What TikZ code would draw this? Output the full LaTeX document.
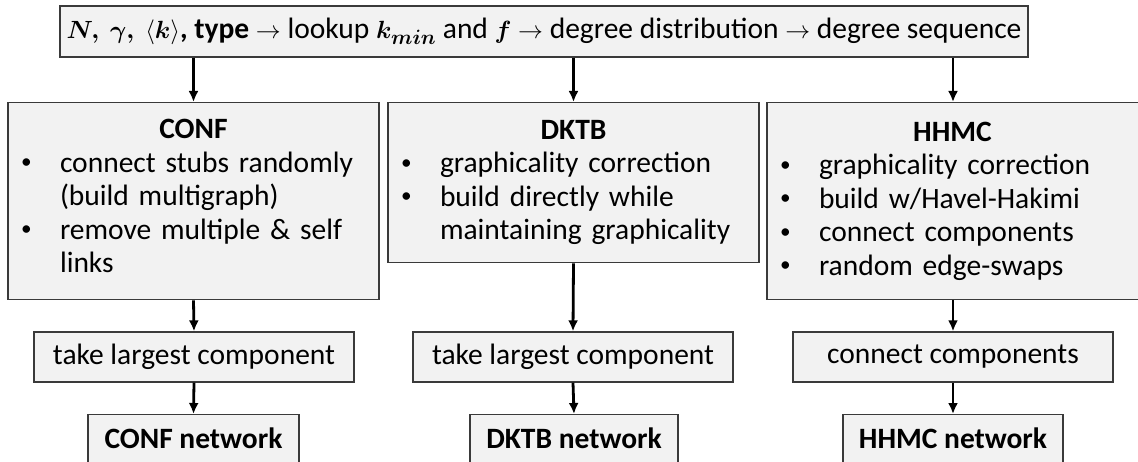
\documentclass[tikz,border=0pt]{standalone}
\usepackage{bm}
\usepackage{fontspec}
\setmainfont{Carlito}
\usetikzlibrary{arrows.meta}

\definecolor{boxfill}{HTML}{F2F2F2}
\definecolor{boxline}{HTML}{3A3A3A}

\newcommand{\itembul}{\makebox[35pt][l]{\hspace*{-4pt}\raisebox{0.12em}{\scalebox{0.72}{\textbullet}}}}
\newcommand{\itemcont}{\hspace*{35pt}}
\newcommand{\coltitle}[1]{\makebox[337pt]{\textbf{#1}}}

\tikzset{
  box/.style={draw=boxline, line width=1.3pt, fill=boxfill, inner sep=0pt,
    font=\fontsize{29.5pt}{33.5pt}\selectfont},
  colbox/.style={box, anchor=north, text width=337pt, inner xsep=17pt,
    inner ysep=4pt, align=left},
  stepbox/.style={box, minimum width=320pt, minimum height=50pt},
  netbox/.style={box, anchor=north, text height=29pt, text depth=20pt,
    inner ysep=5pt},
  arr/.style={line width=2.8pt, -{Latex[length=11pt,width=10pt]}}
}

\begin{document}
\begin{tikzpicture}[x=1pt,y=1pt]
\useasboundingbox (0, 0) rectangle (1138, 461);

\node (top) at (544, 429.5) [box, minimum width=968pt, minimum height=51pt]
  {$\bm{N,\ \gamma,}\ \langle\bm{k}\rangle$\textbf{, type} $\rightarrow$ lookup $\bm{k_{min}}$ and $\bm{f}$ $\rightarrow$ degree distribution $\rightarrow$ degree sequence};

\node (conf) at (193.5, 359) [colbox, minimum height=197pt]
  {\coltitle{CONF}\\
   \itembul connect stubs randomly\\
   \itemcont (build multigraph)\\
   \itembul remove multiple \& self\\
   \itemcont links\strut};
\node (dktb) at (573.5, 359) [colbox, minimum height=160pt]
  {\coltitle{DKTB}\\
   \itembul graphicality correction\\
   \itembul build directly while\\
   \itemcont maintaining graphicality};
\node (hhmc) at (953, 359) [colbox, minimum height=197pt, text width=338pt]
  {\coltitle{HHMC}\\
   \itembul graphicality correction\\
   \itembul build w/Havel-Hakimi\\
   \itembul connect components\\
   \itembul random edge-swaps};

\node (conflc) at (194, 104) [stepbox] {take largest component};
\node (dktblc) at (573, 104) [stepbox] {take largest component};
\node (hhmccc) at (953, 104) [stepbox] {connect components};

\node (confnet) at (193.5, 47) [netbox, minimum width=211pt] {\textbf{CONF network}};
\node (dktbnet) at (574, 47) [netbox, minimum width=208pt] {\textbf{DKTB network}};
\node (hhmcnet) at (953, 47) [netbox, minimum width=220pt] {\textbf{HHMC network}};

\draw [arr] (top.south -| conf.north) -- (conf.north);
\draw [arr] (top.south -| dktb.north) -- (dktb.north);
\draw [arr] (top.south -| hhmc.north) -- (hhmc.north);
\draw [arr] (conf.south) -- (conflc.north);
\draw [arr] (dktb.south) -- (dktblc.north);
\draw [arr] (hhmc.south) -- (hhmccc.north);
\draw [arr] (conflc.south) -- (confnet.north);
\draw [arr] (dktblc.south) -- (dktbnet.north);
\draw [arr] (hhmccc.south) -- (hhmcnet.north);
\end{tikzpicture}
\end{document}
